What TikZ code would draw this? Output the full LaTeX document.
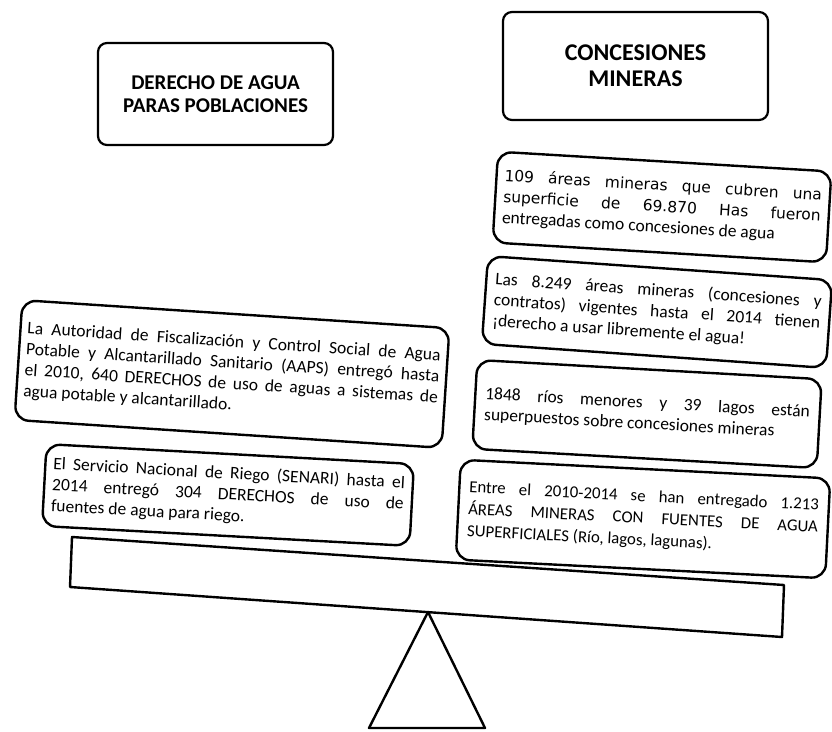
\documentclass[tikz,border=0pt]{standalone}
\usepackage{fontspec}
\setmainfont{Carlito}
\newfontfamily\widefont{DejaVu Sans}
\tikzset{
  card/.style={draw, line width=2.4pt, rounded corners=14pt, fill=white,
    inner xsep=8pt, inner ysep=4pt, anchor=center, align=justify,
    font=\fontsize{17.5}{21}\selectfont},
  head/.style={draw, line width=2.2pt, rounded corners=9pt, fill=white,
    align=center, anchor=center},
  shapeline/.style={draw, line width=2.4pt, line join=round, fill=white}
}
\begin{document}
\begin{tikzpicture}[x=1pt,y=-1pt]
\useasboundingbox[fill=white] (0,0) rectangle (832,731);

% fulcrum and beam
\coordinate (apex) at (428,612);
\coordinate (baseR) at (485,728);
\coordinate (baseL) at (369,728);
\path[shapeline] (apex) -- (baseR) -- (baseL) -- cycle;
\coordinate (bTL) at (72,537);
\coordinate (bTR) at (784,585);
\coordinate (bBR) at (782,637);
\coordinate (bBL) at (70,587);
\path[shapeline] (bTL) -- (bTR) -- (bBR) -- (bBL) -- cycle;

% headings
\node[head, minimum width=235pt, minimum height=102pt,
      font=\bfseries\fontsize{21}{23}\selectfont] (hleft) at (215.5,94)
  {DERECHO DE AGUA\\PARAS POBLACIONES};
\node[head, minimum width=265pt, minimum height=108pt,
      font=\bfseries\fontsize{24}{26}\selectfont] (hright) at (635.5,66)
  {CONCESIONES\\MINERAS};

% left side
\node[card, text width=414pt, inner xsep=7pt, minimum height=120pt, rotate=-3.75] (aaps) at (232,374)
  {La Autoridad de Fiscalización y Control Social de Agua\linebreak
   Potable y Alcantarillado Sanitario (AAPS) entregó hasta\linebreak
   el 2010, 640 DERECHOS de uso de aguas a sistemas de\linebreak
   agua potable y alcantarillado.};
\node[card, text width=352pt, minimum height=82pt, rotate=-3.1] (senari) at (228,495)
  {El Servicio Nacional de Riego (SENARI) hasta el\linebreak
   2014 entregó 304 DERECHOS de uso de\linebreak
   fuentes de agua para riego.};

% right side
\node[card, text width=318pt, minimum height=91pt, rotate=-3.4] (r1) at (662,207)
  {{\widefont\fontsize{15.5}{21}\selectfont 109 áreas mineras que cubren una\linebreak
   superficie de 69.870 Has fueron}\linebreak
   entregadas como concesiones de agua};
\node[card, text width=327pt, inner xsep=9pt, minimum height=88pt, rotate=-4.0] (r2) at (657,312)
  {Las 8.249 áreas mineras (concesiones y\linebreak
   contratos) vigentes hasta el 2014 tienen\linebreak
   ¡derecho a usar libremente el agua!};
\node[card, text width=325pt, inner xsep=10pt, minimum height=89pt, rotate=-3.2] (r3) at (647,414)
  {1848 ríos menores y 39 lagos están\linebreak
   superpuestos sobre concesiones mineras};
\node[card, text width=350pt, inner xsep=10pt, minimum height=100pt, rotate=-2.9,
      font=\fontsize{16.8}{22}\selectfont] (r4) at (643,519)
  {Entre el 2010-2014 se han entregado 1.213\linebreak
   ÁREAS MINERAS CON FUENTES DE AGUA\linebreak
   SUPERFICIALES (Río, lagos, lagunas).};
\end{tikzpicture}
\end{document}
